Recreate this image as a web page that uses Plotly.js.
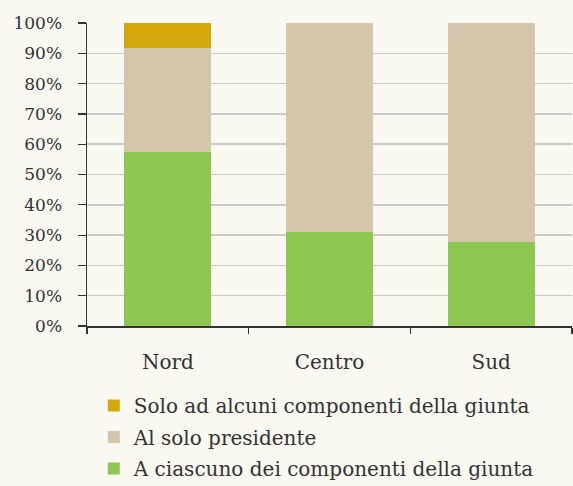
<!DOCTYPE html>
<html>
<head>
<meta charset="utf-8">
<script src="https://cdn.plot.ly/plotly-3.0.1.min.js"></script>
<style>html,body{margin:0;padding:0;background:#f9f8f1;}</style>
</head>
<body>
<div id="chart" style="width:573px;height:486px;"></div>
<script>
const categories = ["Nord", "Centro", "Sud"];
const seriesNames = [
  "A ciascuno dei componenti della giunta",
  "Al solo presidente",
  "Solo ad alcuni componenti della giunta"
];
const ciascuno = [57.3, 30.9, 27.6];
const presidente = [34.6, 69.6, 72.5];
const alcuni = [8.1, 0, 0];
const yTickVals = [0, 10, 20, 30, 40, 50, 60, 70, 80, 90, 100];
const yTickText = ["0%", "10%", "20%", "30%", "40%", "50%", "60%", "70%", "80%", "90%", "100%"];
const colors = ["#8dc752", "#d3c6ab", "#d4a80a"];

const seriesValues = [ciascuno, presidente, alcuni];
const data = seriesValues.map((vals, i) => ({
  type: "bar",
  x: categories,
  y: vals,
  name: seriesNames[i],
  legendgroup: "g" + i,
  legendrank: 3 - i,
  marker: {color: colors[i], line: {width: 0}},
  width: 0.54,
  hoverinfo: "x+y+name"
}));

const font = {family: "DejaVu Serif, serif", size: 16, color: "#333333"};

const layout = {
  width: 573,
  height: 486,
  barmode: "stack",
  paper_bgcolor: "#f9f8f1",
  plot_bgcolor: "#f9f8f1",
  font: font,
  margin: {l: 87, r: 1, t: 23, b: 160, pad: 0, autoexpand: false},
  showlegend: true,
  legend: {
    x: 0.014, xanchor: "left",
    y: -0.198, yanchor: "top",
    traceorder: "grouped",
    tracegroupgap: 2.5,
    font: {family: "DejaVu Serif, serif", size: 20, color: "#333333"},
    bgcolor: "rgba(0,0,0,0)"
  },
  xaxis: {
    type: "category",
    range: [-0.5, 2.5],
    showline: true,
    linecolor: "#333333",
    linewidth: 1.5,
    ticks: "outside",
    tickson: "boundaries",
    ticklen: 6,
    tickwidth: 1.2,
    tickcolor: "#333333",
    showgrid: false,
    tickfont: {family: "DejaVu Serif, serif", size: 20, color: "#333333"},
    ticklabelstandoff: 17
  },
  yaxis: {
    range: [0, 100],
    tickvals: yTickVals,
    ticktext: yTickText,
    showline: true,
    linecolor: "#333333",
    linewidth: 1.5,
    ticks: "outside",
    ticklen: 8,
    tickwidth: 1.2,
    tickcolor: "#333333",
    showgrid: true,
    gridcolor: "#c9c9c9",
    gridwidth: 1.5,
    zeroline: false,
    tickfont: {family: "DejaVu Serif, serif", size: 17, color: "#333333"},
    ticklabelstandoff: 12
  }
};

Plotly.newPlot("chart", data, layout, {displayModeBar: false, staticPlot: true});
</script>
</body>
</html>
